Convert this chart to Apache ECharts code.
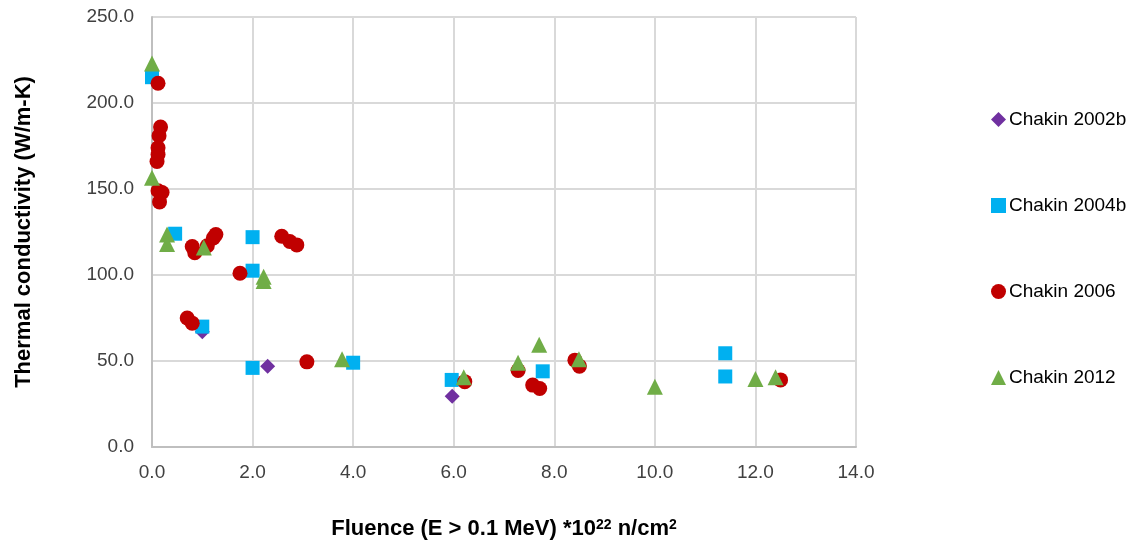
<!DOCTYPE html>
<html><head><meta charset="utf-8">
<script src="https://cdn.jsdelivr.net/npm/echarts@6/dist/echarts.min.js"></script>
<style>html,body{margin:0;padding:0;background:#fff}#c{width:1136px;height:544px}</style>
</head><body><div id="c"></div>
<script>
const seriesNames = ['Chakin 2002b', 'Chakin 2004b', 'Chakin 2006', 'Chakin 2012'];
const chakin2002b = [[1.0, 67], [2.3, 47], [5.97, 29.5]];
const chakin2004b = [[0, 215], [0.46, 124], [1.0, 70], [2.0, 122], [2.0, 102.5], [2.0, 46], [4.0, 49], [5.96, 39], [7.77, 44], [11.4, 54.5], [11.4, 41]];
const chakin2006 = [[0.12, 211.5], [0.17, 186], [0.14, 181], [0.12, 174], [0.12, 170], [0.1, 166], [0.12, 149], [0.2, 148], [0.15, 142.5],
  [0.85, 113], [0.8, 116.5], [1.1, 117], [1.22, 121.5], [1.27, 123.5], [2.58, 122.5], [2.74, 119.5], [2.88, 117.5], [1.75, 101],
  [0.7, 75], [0.8, 72], [3.08, 49.5], [6.22, 38], [7.28, 44.5], [7.57, 36], [7.71, 34], [8.41, 50.5], [8.5, 47], [12.5, 39]];
const chakin2012 = [[0, 223], [0, 156.5], [0.3, 123.5], [0.3, 118], [1.03, 116], [2.22, 99], [2.22, 96.5], [3.78, 51], [6.2, 40.5],
  [7.28, 49], [7.7, 59.5], [8.49, 51], [10, 35], [12.0, 39.5], [12.4, 40.5]];

const font = "'Liberation Sans Narrow', 'Liberation Sans', Arial, sans-serif";
const chart = echarts.init(document.getElementById('c'));
const mk = (name, data, symbol, size, color) => ({
  name, type: 'scatter', data, symbol, symbolSize: size,
  itemStyle: { color, opacity: 1 }, emphasis: { disabled: true }
});
chart.setOption({
  animation: false,
  textStyle: { fontFamily: font },
  grid: { left: 152, right: 280, top: 17, bottom: 97, containLabel: false, outerBoundsMode: 'none' },
  xAxis: {
    type: 'value', min: 0, max: 14, interval: 2,
    name: 'Fluence (E > 0.1 MeV) *10{sup|22} n/cm{sup|2}',
    nameLocation: 'middle', nameGap: 71,
    nameTextStyle: { fontFamily: font, fontSize: 22, fontWeight: 'bold', color: '#000',
      rich: { sup: { fontFamily: font, fontSize: 14, fontWeight: 'bold', color: '#000', verticalAlign: 'top', lineHeight: 14, padding: [0, 0, 11, 0] } } },
    axisLine: { show: true, lineStyle: { color: '#bfbfbf', width: 2 } },
    axisTick: { show: false },
    axisLabel: { fontSize: 19, color: '#404040', margin: 16, formatter: v => v.toFixed(1) },
    splitLine: { show: true, lineStyle: { color: '#d9d9d9', width: 2 } }
  },
  yAxis: {
    type: 'value', min: 0, max: 250, interval: 50,
    name: 'Thermal conductivity (W/m-K)',
    nameLocation: 'middle', nameGap: 117,
    nameTextStyle: { fontFamily: font, fontSize: 22, fontWeight: 'bold', color: '#000' },
    axisLine: { show: true, lineStyle: { color: '#bfbfbf', width: 2 } },
    axisTick: { show: false },
    axisLabel: { fontSize: 19, color: '#404040', margin: 18, formatter: v => v.toFixed(1) },
    splitLine: { show: true, lineStyle: { color: '#d9d9d9', width: 2 } }
  },
  legend: {
    orient: 'vertical', left: 986, top: 105, itemGap: 67,
    itemWidth: 15, itemHeight: 15,
    textStyle: { fontFamily: font, fontSize: 19, color: '#000', padding: [0, 0, 0, -2] },
    data: [
      { name: seriesNames[0], icon: 'diamond' },
      { name: seriesNames[1], icon: 'rect' },
      { name: seriesNames[2], icon: 'circle' },
      { name: seriesNames[3], icon: 'triangle' }
    ]
  },
  series: [
    mk(seriesNames[0], chakin2002b, 'diamond', 15, '#7030a0'),
    mk(seriesNames[1], chakin2004b, 'rect', 14, '#00b0f0'),
    mk(seriesNames[2], chakin2006, 'circle', 15, '#c00000'),
    mk(seriesNames[3], chakin2012, 'triangle', 16, '#70ad47')
  ]
});
</script></body></html>
